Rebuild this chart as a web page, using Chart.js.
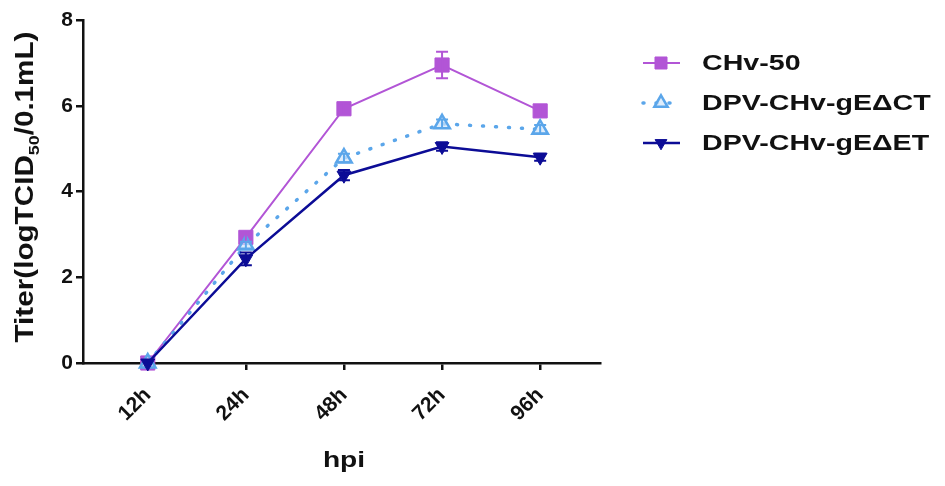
<!DOCTYPE html>
<html>
<head>
<meta charset="utf-8">
<script src="https://cdn.jsdelivr.net/npm/chart.js@4.4.0/dist/chart.umd.min.js"></script>
<style>
  html, body { margin: 0; padding: 0; background: #fff; }
  #wrap { width: 945px; height: 486px; }
</style>
</head>
<body>
<div id="wrap"><canvas id="titerChart" width="945" height="486"></canvas></div>
<script>
// Data
const hours = ['12h', '24h', '48h', '72h', '96h'];
const yTicks = [0, 2, 4, 6, 8];

const chv50 = [0, 2.93, 5.93, 6.95, 5.88];
const chv50Err = [0, 0.1, 0.12, 0.31, 0.12];

const gECT = [0, 2.75, 4.78, 5.58, 5.45];
const gECTErr = [0, 0.08, 0.1, 0.1, 0.1];

const gEET = [0, 2.43, 4.38, 5.05, 4.8];
const gEETErr = [0, 0.15, 0.12, 0.1, 0.08];

const FONT = "'Liberation Sans', Arial, sans-serif";

function toPoints(values) {
  return values.map((v, i) => ({ x: i, y: v }));
}

// draws text stretched along its direction (the figure's type runs wide)
function wideText(ctx, text, x, y, stretch) {
  ctx.save();
  ctx.translate(x, y);
  ctx.scale(stretch, 1);
  ctx.fillText(text, 0, 0);
  ctx.restore();
  return ctx.measureText(text).width * stretch;
}

// error bars drawn through the chart scales
const errorBars = {
  id: 'errorBars',
  afterDatasetsDraw(chart) {
    const { ctx, scales } = chart;
    chart.data.datasets.forEach(ds => {
      if (!ds.errors) return;
      ctx.save();
      ctx.strokeStyle = ds.borderColor;
      ctx.lineWidth = 2;
      ds.data.forEach((p, i) => {
        const e = ds.errors[i];
        if (!e) return;
        const x = scales.x.getPixelForValue(p.x);
        const yTop = scales.y.getPixelForValue(p.y + e);
        const yBot = scales.y.getPixelForValue(p.y - e);
        ctx.beginPath();
        ctx.moveTo(x, yTop); ctx.lineTo(x, yBot);
        ctx.moveTo(x - 6, yTop); ctx.lineTo(x + 6, yTop);
        ctx.moveTo(x - 6, yBot); ctx.lineTo(x + 6, yBot);
        ctx.stroke();
      });
      ctx.restore();
    });
  }
};

// axis titles + legend on the right
const extras = {
  id: 'extras',
  afterDraw(chart) {
    const { ctx } = chart;
    ctx.fillStyle = '#111';

    // y axis title with subscript
    ctx.save();
    ctx.translate(33, 187);
    ctx.rotate(-Math.PI / 2);
    ctx.textBaseline = 'alphabetic';
    const big = 'bold 25px ' + FONT;
    const small = 'bold 15px ' + FONT;
    const parts = [['Titer(logTCID', big, 0], ['50', small, 6], ['/0.1mL)', big, 0]];
    let total = 0;
    parts.forEach(p => { ctx.font = p[1]; total += ctx.measureText(p[0]).width; });
    const stretch = 311 / total;
    let x = -311 / 2;
    parts.forEach(p => {
      ctx.font = p[1];
      x += wideText(ctx, p[0], x, p[2], stretch);
    });
    ctx.restore();

    // x axis title
    ctx.save();
    ctx.font = 'bold 22px ' + FONT;
    ctx.textBaseline = 'alphabetic';
    const w = ctx.measureText('hpi').width * 1.28;
    wideText(ctx, 'hpi', 344 - w / 2, 467, 1.28);
    ctx.restore();

    // legend
    const rows = [63, 103, 143];
    chart.data.datasets.forEach((ds, i) => {
      const y = rows[i];
      ctx.save();
      ctx.strokeStyle = ds.borderColor;
      ctx.lineWidth = ds.borderWidth;
      ctx.lineCap = ds.borderCapStyle || 'butt';
      ctx.setLineDash(ds.borderDash || []);
      ctx.beginPath();
      ctx.moveTo(643, y); ctx.lineTo(680, y);
      ctx.stroke();
      ctx.setLineDash([]);
      ctx.fillStyle = ds.pointBackgroundColor;
      ctx.strokeStyle = ds.pointBorderColor;
      ctx.lineWidth = ds.pointBorderWidth;
      Chart.helpers.drawPoint(ctx, {
        pointStyle: ds.pointStyle,
        rotation: ds.pointRotation || 0,
        radius: ds.pointRadius * 0.85,
        borderWidth: ds.pointBorderWidth
      }, 661, y);
      ctx.fillStyle = '#111';
      ctx.font = 'bold 22px ' + FONT;
      ctx.textBaseline = 'middle';
      wideText(ctx, ds.label, 702, y + 1, 1.3);
      ctx.restore();
    });
  }
};

new Chart(document.getElementById('titerChart'), {
  type: 'line',
  data: {
    datasets: [
      {
        label: 'CHv-50',
        data: toPoints(chv50),
        errors: chv50Err,
        borderColor: '#b255d6',
        borderWidth: 2,
        pointStyle: 'rect',
        pointRadius: 10,
        pointBackgroundColor: '#b255d6',
        pointBorderColor: '#b255d6',
        pointBorderWidth: 1,
        order: 3
      },
      {
        label: 'DPV-CHv-gE\u0394CT',
        data: toPoints(gECT),
        errors: gECTErr,
        borderColor: '#5ba6ea',
        borderWidth: 3.5,
        borderDash: [1, 12],
        borderCapStyle: 'round',
        pointStyle: 'triangle',
        pointRadius: 9,
        pointBackgroundColor: 'rgba(210,230,250,0.7)',
        pointBorderColor: '#5ba6ea',
        pointBorderWidth: 2.5,
        order: 2
      },
      {
        label: 'DPV-CHv-gE\u0394ET',
        data: toPoints(gEET),
        errors: gEETErr,
        borderColor: '#0c0c96',
        borderWidth: 2.5,
        pointStyle: 'triangle',
        pointRotation: 180,
        pointRadius: 8,
        pointBackgroundColor: '#0c0c96',
        pointBorderColor: '#0c0c96',
        pointBorderWidth: 1,
        order: 1
      }
    ]
  },
  options: {
    responsive: false,
    animation: false,
    clip: false,
    layout: { padding: { left: 0, top: 20, right: 345, bottom: 0 } },
    plugins: { legend: { display: false }, tooltip: { enabled: false } },
    scales: {
      x: {
        type: 'linear',
        min: -0.66,
        max: 4.61,
        afterBuildTicks: s => { s.ticks = hours.map((h, i) => ({ value: i })); },
        afterFit: s => { s.height = 123; },
        grid: { drawOnChartArea: false, color: '#111', tickLength: 7, lineWidth: 2.5 },
        border: { color: '#111', width: 2.5 },
        ticks: {
          color: '#111',
          font: { family: FONT, size: 21, weight: 'bold' },
          minRotation: 45,
          maxRotation: 45,
          padding: 13,
          callback: v => hours[v]
        },
        title: { display: false }
      },
      y: {
        min: 0,
        max: 8,
        afterBuildTicks: s => { s.ticks = yTicks.map(v => ({ value: v })); },
        afterFit: s => { s.width = 83; },
        grid: { drawOnChartArea: false, color: '#111', tickLength: 7, lineWidth: 2.5 },
        border: { color: '#111', width: 2.5 },
        ticks: {
          color: '#111',
          font: { family: FONT, size: 21, weight: 'bold' },
          padding: 3
        }
      }
    }
  },
  plugins: [errorBars, extras]
});
</script>
</body>
</html>
